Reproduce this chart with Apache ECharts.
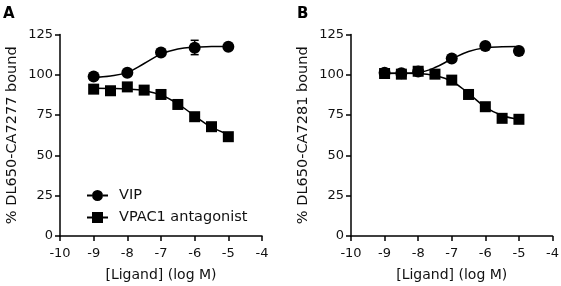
<!DOCTYPE html>
<html>
<head>
<meta charset="utf-8">
<script src="https://cdn.jsdelivr.net/npm/echarts@6/dist/echarts.min.js"></script>
<style>
  html, body { margin: 0; padding: 0; background: #fff; }
  #chart { width: 561px; height: 286px; }
</style>
</head>
<body>
<div id="chart"></div>
<script>
// log concentrations
const xVip = [-9, -8, -7, -6, -5]
const xVipB = [-9, -8.5, -8, -7, -6, -5]
const xAnt = [-9, -8.5, -8, -7.5, -7, -6.5, -6, -5.5, -5]
const xFit = [-9, -8.5, -8, -7.5, -7, -6.5, -6, -5.5, -5]

// panel A (DL650-CA7277)
const vipA = [99, 101.2, 113.8, 116.8, 117.4]
const vipAErr = [null, null, null, [112.5, 121.4], null]
const antA = [91.1, 90.1, 92.5, 90.5, 87.8, 81.6, 74.0, 67.8, 61.6]
const vipAFit = [98.4, 99.3, 101.5, 107, 112.8, 116, 117.2, 117.5, 117.6]
const antAFit = [91.6, 91.5, 91.2, 90.2, 87.5, 82, 74.5, 67.5, 63]

// panel B (DL650-CA7281)
const vipB = [101.2, 101, 102, 110.1, 117.9, 114.8]
const antB = [100.8, 100.4, 102.2, 100.4, 96.7, 87.8, 80.2, 73.0, 72.4]
const vipBFit = [100.8, 100.9, 101.4, 104.5, 109.8, 114.5, 116.8, 117.4, 117.6]
const antBFit = [101, 101, 100.8, 99.5, 96, 88.5, 80, 74.8, 72.4]

const font = 'DejaVu Sans, Liberation Sans, Arial, sans-serif'
const pair = (xs, ys) => xs.map((x, i) => [x, ys[i]])

const chart = echarts.init(document.getElementById('chart'))

function xAxis (grid) {
  return {
    type: 'value', gridIndex: grid, min: -10, max: -4, interval: 1,
    name: '[Ligand] (log M)', nameLocation: 'middle', nameGap: 32,
    nameTextStyle: { color: '#111', fontSize: 14, fontFamily: font },
    axisLine: { lineStyle: { color: '#000', width: 1.5 } },
    axisTick: { length: 5, lineStyle: { color: '#000', width: 1.5 } },
    axisLabel: { color: '#111', fontSize: 13, fontFamily: font, margin: 11 },
    splitLine: { show: false }
  }
}
function yAxis (grid, name) {
  return {
    type: 'value', gridIndex: grid, min: 0, max: 125, interval: 25,
    name: name, nameLocation: 'middle', nameGap: 40,
    nameTextStyle: { color: '#111', fontSize: 14.5, fontFamily: font },
    axisLine: { show: true, lineStyle: { color: '#000', width: 1.5 } },
    axisTick: { show: true, length: 5, lineStyle: { color: '#000', width: 1.5 } },
    axisLabel: { color: '#111', fontSize: 13, fontFamily: font, margin: 7 },
    splitLine: { show: false }
  }
}

function fit (grid, xs, ys) {
  return {
    type: 'line', xAxisIndex: grid, yAxisIndex: grid, data: pair(xs, ys),
    smooth: 0.4, showSymbol: false, silent: true, z: 2,
    lineStyle: { color: '#000', width: 1.5 }
  }
}
function pts (grid, name, xs, ys, symbol, size) {
  return {
    name: name, type: 'scatter', xAxisIndex: grid, yAxisIndex: grid,
    data: pair(xs, ys), symbol: symbol, symbolSize: size, z: 3,
    itemStyle: { color: '#000', opacity: 1 }
  }
}

const errData = pair(xVip, vipAErr).filter(d => d[1]).map(d => [d[0], d[1][0], d[1][1]])

chart.setOption({
  animation: false,
  textStyle: { fontFamily: font },
  title: [
    { text: 'A', left: 3, top: 7, padding: 0, textStyle: { fontSize: 15, fontWeight: 'bold', color: '#000', fontFamily: font } },
    { text: 'B', left: 297, top: 7, padding: 0, textStyle: { fontSize: 15, fontWeight: 'bold', color: '#000', fontFamily: font } }
  ],
  legend: {
    orient: 'vertical', left: 82, top: 183, itemWidth: 21, itemHeight: 11, itemGap: 7,
    textStyle: { color: '#111', fontSize: 14.5, fontFamily: font, padding: [0, 0, 0, 6] },
    data: [
      { name: 'VIP', icon: 'path://M0,4.6h5v1.8h-5z M16,4.6h5v1.8h-5z M10.5,0a5.5,5.5 0 1,1 -0.01,0z' },
      { name: 'VPAC1 antagonist', icon: 'path://M0,4.6h5v1.8h-5z M16,4.6h5v1.8h-5z M5,0h11v11h-11z' }
    ]
  },
  grid: [
    { left: 60, right: 299, top: 34.5, bottom: 50, outerBoundsMode: 'none' },
    { left: 351, right: 8.5, top: 34.5, bottom: 50, outerBoundsMode: 'none' }
  ],
  xAxis: [xAxis(0), xAxis(1)],
  yAxis: [yAxis(0, '% DL650-CA7277 bound'), yAxis(1, '% DL650-CA7281 bound')],
  series: [
    fit(0, xFit, vipAFit),
    fit(0, xFit, antAFit),
    pts(0, 'VIP', xVip, vipA, 'circle', 12),
    pts(0, 'VPAC1 antagonist', xAnt, antA, 'rect', 11),
    {
      type: 'custom', xAxisIndex: 0, yAxisIndex: 0, data: errData, z: 4, silent: true,
      renderItem: function (params, api) {
        const lo = api.coord([api.value(0), api.value(1)])
        const hi = api.coord([api.value(0), api.value(2)])
        const w = 4
        const st = { stroke: '#000', lineWidth: 1.5 }
        return {
          type: 'group',
          children: [
            { type: 'line', shape: { x1: lo[0], y1: lo[1], x2: hi[0], y2: hi[1] }, style: st },
            { type: 'line', shape: { x1: lo[0] - w, y1: lo[1], x2: lo[0] + w, y2: lo[1] }, style: st },
            { type: 'line', shape: { x1: hi[0] - w, y1: hi[1], x2: hi[0] + w, y2: hi[1] }, style: st }
          ]
        }
      }
    },
    fit(1, xFit, vipBFit),
    fit(1, xFit, antBFit),
    pts(1, 'VIP', xVipB, vipB, 'circle', 12),
    pts(1, 'VPAC1 antagonist', xAnt, antB, 'rect', 11)
  ]
})
</script>
</body>
</html>
